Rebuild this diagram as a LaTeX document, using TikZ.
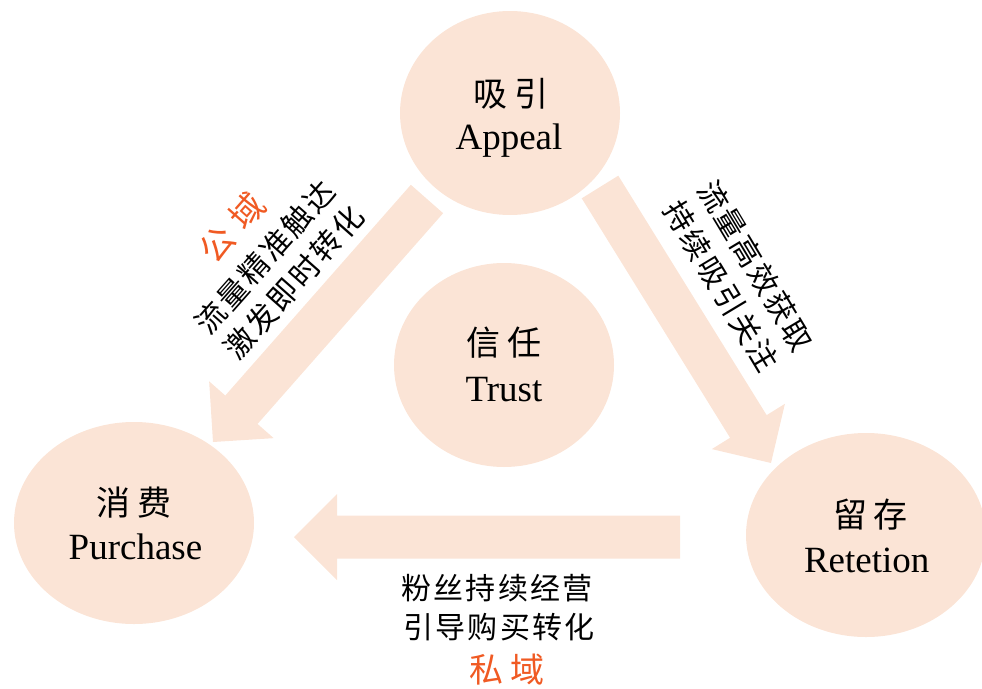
\documentclass[tikz,border=0pt]{standalone}
\usepackage{fontspec}
\setmainfont{Liberation Serif}
\newfontfamily\cjk{Noto Sans CJK SC}
\newfontfamily\cjkls[LetterSpace=8]{Noto Sans CJK SC}
\usetikzlibrary{shapes.geometric,calc}
\definecolor{peach}{RGB}{251,228,214}
\definecolor{accent}{RGB}{240,90,35}
\newcommand\bigarrow[3]{%
  \coordinate (#1b) at ($(#3)!43pt!(#2)$);
  \fill[peach] ($(#2)!21.5pt!90:(#3)$) -- ($(#1b)!21.5pt!90:(#3)$) -- ($(#1b)!43pt!90:(#3)$) -- (#3)
    -- ($(#1b)!43pt!-90:(#3)$) -- ($(#1b)!21.5pt!-90:(#3)$) -- ($(#2)!21.5pt!-90:(#3)$) -- cycle;
}
\newcommand\hotfont{\fontsize{34}{38}\selectfont\cjk\color{accent}}
\tikzset{
  blob/.style={ellipse, fill=peach, draw=none, inner sep=0pt, outer sep=0pt},
  cn/.style={inner sep=0pt, font=\fontsize{34}{38}\selectfont\cjk},
  en/.style={inner sep=0pt, anchor=base, font=\fontsize{37}{42}\selectfont},
  lbl/.style={inner sep=0pt, font=\fontsize{30}{34}\selectfont\cjkls},
  hot/.style={inner sep=0pt, text=accent, font=\fontsize{34}{38}\selectfont\cjk},
}
\begin{document}
\begin{tikzpicture}[x=1pt,y=-1pt]
\useasboundingbox (0,0) rectangle (982,688);
% circles
\node[blob, minimum width=220pt, minimum height=204pt] (appeal) at (510,113) {};
\node[blob, minimum width=220pt, minimum height=204pt] (trust) at (504,365) {};
\node[blob, minimum width=240pt, minimum height=202pt] (purchase) at (134,523) {};
\node[blob, minimum width=240pt, minimum height=204pt] (retention) at (866,535) {};
% arrow end points
\coordinate (a1s) at (427,199);
\coordinate (a1t) at (213,442);
\coordinate (a2s) at (600,187);
\coordinate (a2t) at (771,463);
\coordinate (a3s) at (680,537);
\coordinate (a3t) at (294,537);
\bigarrow{a1}{a1s}{a1t}
\bigarrow{a2}{a2s}{a2t}
\bigarrow{a3}{a3s}{a3t}
% circle texts
\node[cn] (appealcn) at (511,94) {吸\hspace{7pt}引};
\node[en] (appealen) at (509,149) {Appeal};
\node[cn] (trustcn) at (504,343) {信\hspace{7pt}任};
\node[en] (trusten) at (504,401.7) {Trust};
\node[cn] (purchasecn) at (134,503) {消\hspace{7pt}费};
\node[en] (purchaseen) at (135.5,559) {Purchase};
\node[cn] (retentioncn) at (870.5,515) {留\hspace{7pt}存};
\node[en] (retentionen) at (866.7,572.7) {Retetion};
% left label (public domain)
\node[inner sep=0pt, rotate=48.5, align=center, font=\fontsize{30}{38.5}\selectfont\cjkls] (leftlbl) at (262.3,254.6)
  {{\hotfont 公\hspace{11pt}域}\\[4pt]流量精准触达\\激发即时转化};
% right label
\node[inner sep=0pt, rotate=-59, align=center, font=\fontsize{30}{40.3}\selectfont\cjkls] (rightlbl) at (738.5,276)
  {流量高效获取\\持续吸引关注};
% bottom labels
\node[lbl] (b1) at (497,588) {粉丝持续经营};
\node[lbl] (b2) at (499,627) {引导购买转化};
\node[hot] (priv) at (507,670) {私\hspace{7pt}域};
\end{tikzpicture}
\end{document}
